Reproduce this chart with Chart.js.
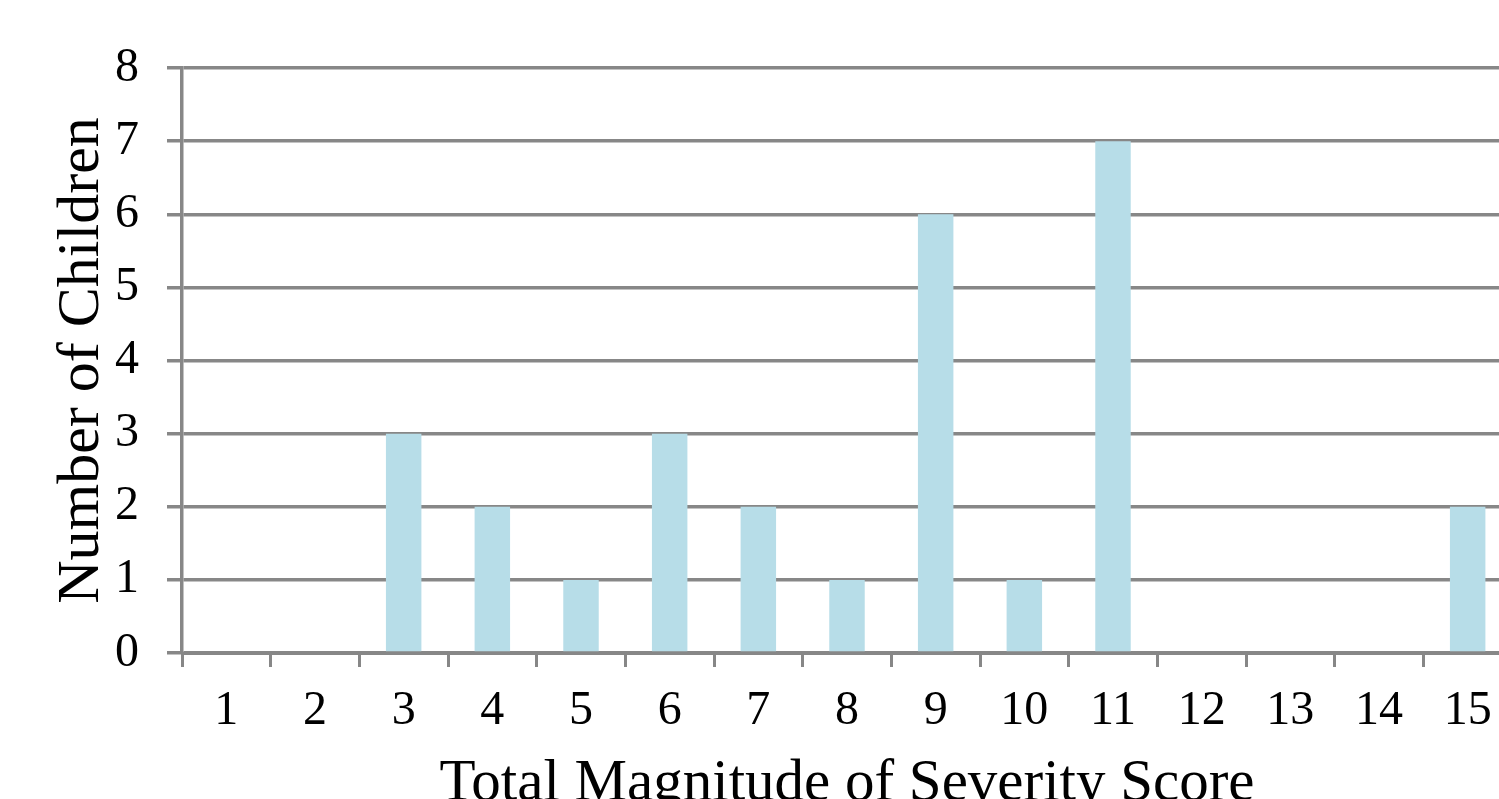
<!DOCTYPE html>
<html>
<head>
<meta charset="utf-8">
<title>Total Magnitude of Severity Score</title>
<script src="https://cdn.jsdelivr.net/npm/chart.js@4.4.1/dist/chart.umd.min.js"></script>
<style>
  html, body { margin: 0; padding: 0; background: #ffffff; overflow: hidden; }
  #wrap { position: absolute; left: 0; top: 0; width: 1515px; height: 820px; }
</style>
</head>
<body>
<div id="wrap"><canvas id="chart" width="1515" height="820"></canvas></div>
<script>
// Severity scores (categories) and how many children scored each
const scoreLabels = ['1', '2', '3', '4', '5', '6', '7', '8', '9', '10', '11', '12', '13', '14', '15'];
const childCounts = [0, 0, 3, 2, 1, 3, 2, 1, 6, 1, 7, 0, 0, 0, 2];
const yTicks = [0, 1, 2, 3, 4, 5, 6, 7, 8];

const serif = '"Liberation Serif", "Times New Roman", Times, serif';
const gridGray = '#878787';

new Chart(document.getElementById('chart'), {
  type: 'bar',
  data: {
    labels: scoreLabels,
    datasets: [{
      data: childCounts,
      backgroundColor: '#b7dde8',
      borderWidth: 0,
      categoryPercentage: 1.0,
      barPercentage: 0.4
    }]
  },
  options: {
    responsive: false,
    animation: false,
    devicePixelRatio: 1,
    layout: { padding: { top: 68, right: 3, bottom: 0, left: 0 } },
    plugins: {
      legend: { display: false },
      tooltip: { enabled: false }
    },
    scales: {
      x: {
        offset: true,
        grid: {
          offset: true,
          drawOnChartArea: false,
          drawTicks: true,
          tickLength: 14,
          tickColor: gridGray,
          tickWidth: 3
        },
        border: { display: true, color: gridGray, width: 3 },
        ticks: {
          color: '#000000',
          padding: 16,
          maxRotation: 0,
          autoSkip: false,
          font: { family: serif, size: 48 }
        },
        title: {
          display: true,
          text: 'Total Magnitude of Severity Score',
          color: '#000000',
          padding: { top: 0, bottom: 0 },
          font: { family: serif, size: 59 }
        },
        afterFit: (scale) => { scale.height = 167; }
      },
      y: {
        min: 0,
        max: 8,
        afterBuildTicks: (scale) => { scale.ticks = yTicks.map(v => ({ value: v })); },
        grid: {
          color: gridGray,
          lineWidth: 3.5,
          drawTicks: true,
          tickLength: 15,
          tickColor: gridGray,
          tickWidth: 3.5
        },
        border: { display: true, color: gridGray, width: 3.5 },
        ticks: {
          color: '#000000',
          padding: 28,
          font: { family: serif, size: 48 }
        },
        title: {
          display: true,
          text: 'Number of Children',
          color: '#000000',
          padding: { top: 46, bottom: 0 },
          font: { family: serif, size: 60 }
        },
        afterFit: (scale) => { scale.width = 182; }
      }
    }
  }
});
</script>
</body>
</html>
